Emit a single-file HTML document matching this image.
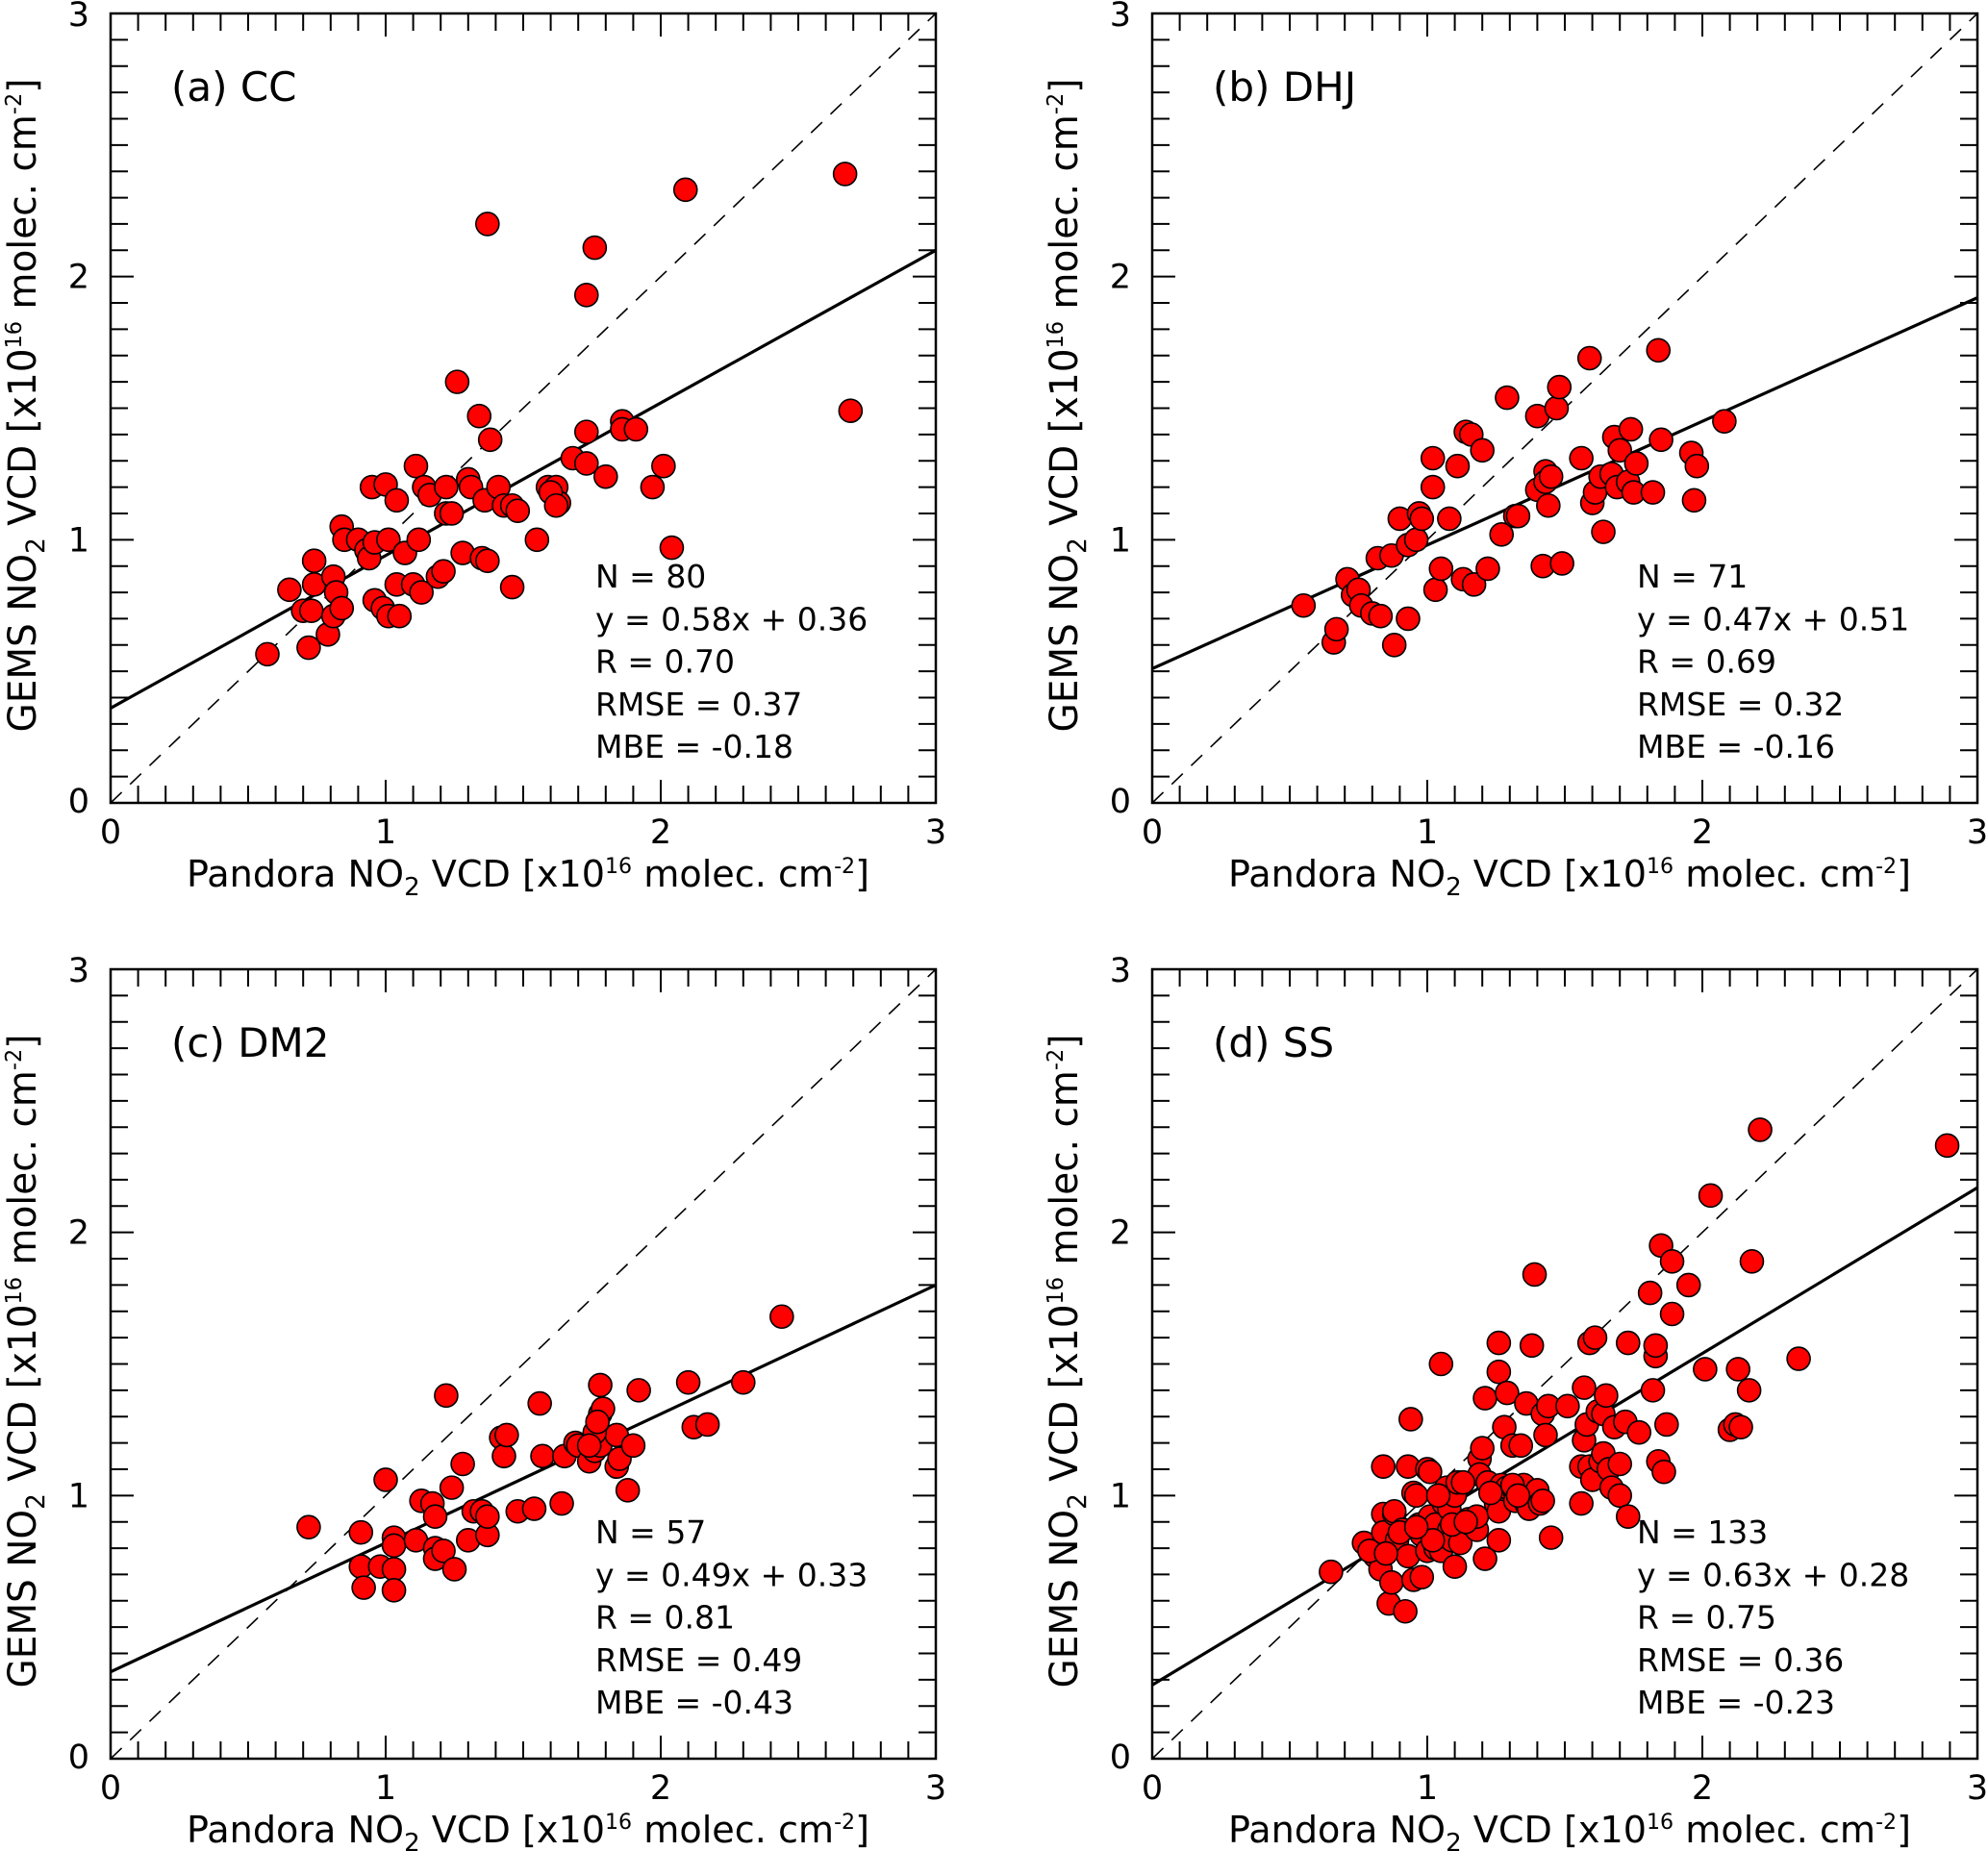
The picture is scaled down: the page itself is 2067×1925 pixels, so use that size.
<!DOCTYPE html>
<html><head><meta charset="utf-8"><title>GEMS vs Pandora NO2 VCD</title>
<style>
html,body{margin:0;padding:0;background:#fff;}
svg{display:block;font-family:"DejaVu Sans","Liberation Sans",sans-serif;}
</style></head>
<body>
<svg id="fig" width="2067" height="1925" viewBox="0 0 2067 1925" xmlns="http://www.w3.org/2000/svg"></svg>
<script>
// ---- data ----
const panelLabels = ["(a) CC", "(b) DHJ", "(c) DM2", "(d) SS"];
const panelN = ["80", "71", "57", "133"];
const slopes = [0.58, 0.47, 0.49, 0.63];
const intercepts = [0.36, 0.51, 0.33, 0.28];
const rValues = ["0.70", "0.69", "0.81", "0.75"];
const rmseValues = ["0.37", "0.32", "0.49", "0.36"];
const mbeValues = ["-0.18", "-0.16", "-0.43", "-0.23"];
const tickLabels = ["0", "1", "2", "3"];

const ccX = [0.57,0.65,0.70,0.72,0.74,0.74,0.73,0.79,0.81,0.82,0.81,0.84,0.84,0.85,0.90,0.93,0.94,0.96,0.95,0.96,0.99,1.01,1.05,1.00,1.01,1.04,1.04,1.07,1.12,1.11,1.10,1.13,1.14,1.16,1.19,1.21,1.22,1.22,1.24,1.26,1.28,1.30,1.31,1.34,1.35,1.37,1.37,1.38,1.36,1.41,1.43,1.46,1.46,1.48,1.55,1.59,1.62,1.63,1.68,1.73,1.73,1.73,1.76,1.80,1.86,1.86,1.91,1.97,2.01,2.04,2.09,1.60,1.62,2.67,2.69];
const ccY = [0.565,0.81,0.73,0.59,0.83,0.92,0.73,0.64,0.86,0.80,0.71,0.74,1.05,1.00,1.00,0.96,0.93,0.99,1.20,0.77,0.74,0.71,0.71,1.21,1.00,1.15,0.83,0.95,1.00,1.28,0.83,0.80,1.20,1.17,0.86,0.88,1.20,1.10,1.10,1.60,0.95,1.23,1.20,1.47,0.93,0.92,2.20,1.38,1.15,1.20,1.13,0.82,1.13,1.11,1.00,1.20,1.20,1.14,1.31,1.93,1.41,1.29,2.11,1.24,1.45,1.42,1.42,1.20,1.28,0.97,2.33,1.18,1.13,2.39,1.49];

const dhjX = [0.55,0.66,0.67,0.71,0.73,0.75,0.76,0.80,0.82,0.83,0.87,0.88,0.90,0.93,0.93,0.96,0.97,0.98,1.02,1.02,1.03,1.05,1.08,1.11,1.13,1.14,1.16,1.17,1.20,1.22,1.27,1.29,1.32,1.33,1.40,1.40,1.42,1.43,1.43,1.44,1.47,1.45,1.48,1.49,1.56,1.59,1.60,1.61,1.63,1.64,1.68,1.67,1.69,1.70,1.73,1.74,1.76,1.75,1.82,1.84,1.85,1.96,1.97,1.98,2.08];
const dhjY = [0.75,0.61,0.66,0.85,0.79,0.81,0.75,0.72,0.93,0.71,0.94,0.60,1.08,0.98,0.70,1.00,1.10,1.08,1.20,1.31,0.81,0.89,1.08,1.28,0.85,1.41,1.40,0.83,1.34,0.89,1.02,1.54,1.09,1.09,1.47,1.19,0.90,1.26,1.22,1.13,1.50,1.24,1.58,0.91,1.31,1.69,1.14,1.18,1.24,1.03,1.39,1.25,1.20,1.34,1.22,1.42,1.29,1.18,1.18,1.72,1.38,1.33,1.15,1.28,1.45];

const dm2X = [0.72,0.91,0.91,0.92,0.98,1.00,1.03,1.03,1.03,1.03,1.11,1.13,1.17,1.18,1.18,1.18,1.21,1.22,1.24,1.25,1.28,1.30,1.32,1.35,1.37,1.37,1.42,1.43,1.44,1.48,1.54,1.56,1.57,1.64,1.65,1.69,1.70,1.74,1.76,1.78,1.78,1.78,1.79,1.84,1.84,1.85,1.88,1.90,1.92,2.10,2.12,2.17,2.30,2.44,1.76,1.77,1.74];
const dm2Y = [0.88,0.86,0.73,0.65,0.73,1.06,0.72,0.84,0.81,0.64,0.83,0.98,0.97,0.92,0.80,0.76,0.79,1.38,1.03,0.72,1.12,0.83,0.94,0.94,0.85,0.92,1.22,1.15,1.23,0.94,0.95,1.35,1.15,0.97,1.15,1.20,1.19,1.13,1.17,1.42,1.19,1.31,1.33,1.23,1.11,1.14,1.02,1.19,1.40,1.43,1.26,1.27,1.43,1.68,1.24,1.28,1.19];

const ssX = [0.65,0.77,0.81,0.84,0.84,0.84,0.83,0.86,0.87,0.88,0.88,0.89,0.92,0.93,0.93,0.94,0.95,0.95,0.96,0.97,0.98,0.98,1.00,1.00,1.01,1.01,1.03,1.03,1.05,1.05,1.06,1.07,1.08,1.08,1.09,1.10,1.10,1.11,1.12,1.15,1.16,1.18,1.18,1.19,1.19,1.20,1.21,1.21,1.22,1.25,1.26,1.26,1.26,1.26,1.27,1.28,1.29,1.29,1.31,1.32,1.32,1.34,1.35,1.36,1.36,1.37,1.38,1.39,1.40,1.41,1.42,1.42,1.43,1.44,1.45,1.51,1.56,1.56,1.57,1.57,1.58,1.59,1.59,1.60,1.61,1.62,1.63,1.64,1.64,1.65,1.66,1.67,1.68,1.70,1.70,1.72,1.73,1.73,1.77,1.81,1.82,1.83,1.83,1.84,1.85,1.86,1.87,1.89,1.89,1.95,2.01,2.03,2.10,2.12,2.13,2.14,2.17,2.18,2.21,2.35,2.89,0.79,0.85,0.91,1.02,1.09,1.13,1.31,0.90,0.96,1.04,1.14,1.23,1.33];
const ssY = [0.71,0.82,0.77,1.11,0.93,0.86,0.72,0.59,0.67,0.93,0.94,0.83,0.56,0.77,1.11,1.29,0.68,1.01,1.00,0.89,0.69,0.85,0.79,1.10,1.09,0.92,0.80,0.89,1.50,0.79,0.97,1.03,0.87,0.95,0.83,0.73,1.00,1.05,0.82,0.91,0.89,0.87,0.92,1.14,1.08,1.18,1.37,0.76,1.05,0.97,0.83,1.47,1.58,0.94,1.04,1.26,1.39,1.03,1.19,1.01,0.98,1.19,1.04,1.35,0.97,0.95,1.57,1.84,1.02,0.97,0.98,1.31,1.23,1.34,0.84,1.34,0.97,1.11,1.21,1.41,1.27,1.11,1.58,1.06,1.60,1.32,1.13,1.16,1.31,1.38,1.10,1.03,1.26,1.12,1.00,1.28,1.58,0.92,1.24,1.77,1.40,1.53,1.57,1.13,1.95,1.09,1.27,1.69,1.89,1.80,1.48,2.14,1.25,1.27,1.48,1.26,1.40,1.89,2.39,1.52,2.33,0.79,0.78,0.87,0.83,0.89,1.05,1.04,0.86,0.88,1.00,0.90,1.01,1.00];

const seriesX = [ccX, dhjX, dm2X, ssX];
const seriesY = [ccY, dhjY, dm2Y, ssY];
const panelNames = ["cc", "dhj", "dm2", "ss"];

// ---- layout ----
const NS = "http://www.w3.org/2000/svg";
const svg = document.getElementById("fig");
const panelBox = [
  {l:115, t:14, w:858, h:821},
  {l:1198, t:14, w:858, h:821},
  {l:115, t:1008, w:858, h:821},
  {l:1198, t:1008, w:858, h:821}
];
function mk(tag, attrs, parent){
  const e = document.createElementNS(NS, tag);
  for (const k in attrs) e.setAttribute(k, attrs[k]);
  (parent||svg).appendChild(e);
  return e;
}

panelBox.forEach((b, i) => {
  const xs = v => b.l + v / 3 * b.w;
  const ys = v => b.t + b.h - v / 3 * b.h;
  const g = mk("g", {});
  
  

  const cp = mk("clipPath", {id:"clip"+i}, g);
  mk("rect", {x:b.l, y:b.t, width:b.w, height:b.h}, cp);

  const d11 = mk("line", {x1:xs(0), y1:ys(0), x2:xs(3), y2:ys(3), stroke:"#000", "stroke-width":1.6, "stroke-dasharray":"16,12", "clip-path":"url(#clip"+i+")"}, g);
  
  

  const rl = mk("line", {x1:xs(0), y1:ys(intercepts[i]), x2:xs(3), y2:ys(intercepts[i] + 3*slopes[i]), stroke:"#000", "stroke-width":3.2, "clip-path":"url(#clip"+i+")"}, g);
  
  

  const pg = mk("g", {}, g);
  
  
  const X = seriesX[i], Y = seriesY[i];
  for (let k = 0; k < X.length; k++) {
    const c = mk("circle", {cx:xs(X[k]), cy:ys(Y[k]), r:12, fill:"#ff0000", stroke:"#000", "stroke-width":1.6}, pg);
    
    
  }

  const fr = mk("rect", {x:b.l, y:b.t, width:b.w, height:b.h, fill:"none", stroke:"#000", "stroke-width":2.5}, g);
  
  

  let path = "";
  for (let t = 0; t <= 30; t++) {
    const v = t / 10;
    const len = (t % 10 === 0) ? 24 : 18;
    const x = xs(v), y = ys(v);
    path += `M${x},${b.t+b.h}v${-len}M${x},${b.t}v${len}`;
    path += `M${b.l},${y}h${len}M${b.l+b.w},${y}h${-len}`;
  }
  const tk = mk("path", {d:path, stroke:"#000", "stroke-width":2, fill:"none"}, g);
  
  

  tickLabels.forEach((lab, j) => {
    const tx = mk("text", {x:xs(j), y:b.t+b.h+42, "font-size":35, "text-anchor":"middle"}, g);
    tx.textContent = lab;
    
    
    const ty = mk("text", {x:b.l-22, y:ys(j)+(j===3?13:(j===0?10:12)), "font-size":35, "text-anchor":"end"}, g);
    ty.textContent = lab;
    
    
  });

  const xt = mk("text", {x:b.l+79, y:b.t+b.h+87, "font-size":38, textLength:710, lengthAdjust:"spacingAndGlyphs"}, g);
  xt.innerHTML = 'Pandora NO<tspan dy="9" font-size="26">2</tspan><tspan dy="-9"> VCD [x10</tspan><tspan dy="-14" font-size="22">16</tspan><tspan dy="14"> molec. cm</tspan><tspan dy="-14" font-size="22">-2</tspan><tspan dy="14">]</tspan>';
  
  

  const cy = b.t + b.h/2 - 3;
  const cx = b.l - 78;
  const yt = mk("text", {x:cx, y:cy, "font-size":40, "text-anchor":"middle", textLength:680, lengthAdjust:"spacingAndGlyphs", transform:`rotate(-90 ${cx} ${cy})`}, g);
  yt.innerHTML = 'GEMS NO<tspan dy="9" font-size="27">2</tspan><tspan dy="-9"> VCD [x10</tspan><tspan dy="-15" font-size="23">16</tspan><tspan dy="15"> molec. cm</tspan><tspan dy="-15" font-size="23">-2</tspan><tspan dy="15">]</tspan>';
  
  

  const pl = mk("text", {x:b.l+63, y:b.t+91, "font-size":42}, g);
  pl.textContent = panelLabels[i];
  
  

  const lines = ["N = " + panelN[i],
    "y = " + slopes[i].toFixed(2) + "x + " + intercepts[i].toFixed(2),
    "R = " + rValues[i], "RMSE = " + rmseValues[i], "MBE = " + mbeValues[i]];
  lines.forEach((s, j) => {
    const st = mk("text", {x:b.l+504, y:b.t+597+j*44.3, "font-size":33}, g);
    st.textContent = s;
    
    
  });
});
</script>
</body></html>
